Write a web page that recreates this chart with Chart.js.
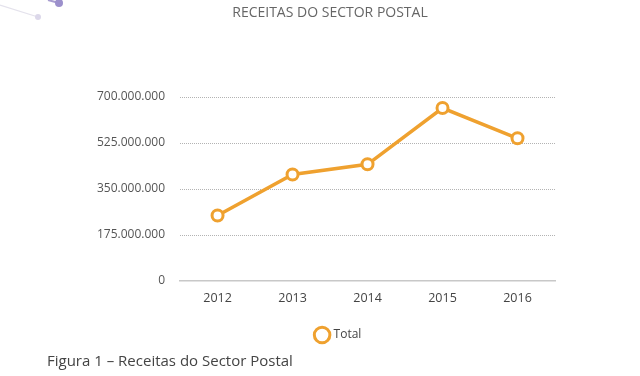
<!DOCTYPE html>
<html>
<head>
<meta charset="utf-8">
<script src="https://cdn.jsdelivr.net/npm/chart.js@4"></script>
<style>
  html, body { margin: 0; padding: 0; background: #fff; }
  #wrap { position: relative; width: 640px; height: 376px; overflow: hidden; }
  #deco { position: absolute; left: 0; top: 0; }
  #titulo {
    position: absolute; left: 0; top: 3px; width: 660px; text-align: center;
    font-family: "Open Sans", sans-serif; font-size: 14px; line-height: 18px; color: #666;
  }
  #caption {
    position: absolute; left: 47px; top: 350px;
    font-family: "Open Sans", sans-serif; font-size: 15px; color: #444;
    white-space: nowrap;
  }
</style>
</head>
<body>
<div id="wrap">
  <canvas id="chart" width="640" height="376"></canvas>
  <svg id="deco" width="80" height="30">
    <line x1="0" y1="5" x2="38" y2="17" stroke="#e4e2ec" stroke-width="1.2"/>
    <circle cx="38" cy="17" r="3" fill="#dcd8ea"/>
    <line x1="48" y1="0" x2="59" y2="3" stroke="#a89dd0" stroke-width="2"/>
    <circle cx="59" cy="3" r="4" fill="#9c90cc"/>
  </svg>
  <div id="titulo">RECEITAS DO SECTOR POSTAL</div>
  <div id="caption">Figura 1 – Receitas do Sector Postal</div>
</div>
<script>
  // dados do gráfico
  const anos = ['2012', '2013', '2014', '2015', '2016'];
  const receitas = [249000000, 405000000, 444000000, 658000000, 543000000];
  const ticksY = [0, 175000000, 350000000, 525000000, 700000000];

  const laranja = '#EFA12F';

  function formatarNumero(v) {
    return String(v).replace(/\B(?=(\d{3})+(?!\d))/g, '.');
  }

  new Chart(document.getElementById('chart'), {
    type: 'line',
    data: {
      labels: anos,
      datasets: [{
        label: 'Total',
        data: receitas,
        borderColor: laranja,
        backgroundColor: '#fff',
        borderWidth: 3.5,
        pointRadius: 5.5,
        pointBorderWidth: 3,
        pointBackgroundColor: '#fff',
        pointBorderColor: laranja,
        tension: 0,
        fill: false
      }]
    },
    options: {
      responsive: false,
      animation: false,
      layout: { padding: { left: 82, right: 44, top: 97, bottom: 25 } },
      plugins: {
        legend: {
          position: 'bottom',
          labels: {
            usePointStyle: true,
            pointStyle: 'circle',
            boxWidth: 11,
            boxHeight: 11,
            color: '#444',
            font: { family: 'Open Sans', size: 12 },
            padding: 10
          }
        },
        tooltip: { enabled: false }
      },
      scales: {
        x: {
          offset: true,
          grid: { display: false },
          border: { display: true, color: '#c8c8c8', width: 1.5 },
          ticks: { color: '#444', font: { family: 'Open Sans', size: 12.5 }, padding: 2 },
          afterFit: function(axis) { axis.height += 11; }
        },
        y: {
          min: 0,
          max: 700000000,
          afterBuildTicks: function(axis) {
            axis.ticks = ticksY.map(function(v) { return { value: v }; });
          },
          grid: {
            drawTicks: false,
            color: function(ctx) {
              return ctx.tick && ctx.tick.value === 0 ? 'rgba(0,0,0,0)' : '#a0a0a0';
            },
            lineWidth: 0.8
          },
          border: { display: false, dash: [1, 1] },
          ticks: {
            color: '#555',
            font: { family: 'Open Sans', size: 12 },
            padding: 15,
            callback: function(v) { return formatarNumero(v); }
          }
        },
        // eixo vazio só para reservar espaço à direita
        yRight: {
          position: 'right',
          min: 0,
          max: 1,
          grid: { display: false },
          border: { display: false },
          ticks: { display: false },
          afterFit: function(axis) { axis.width = 41; }
        }
      }
    }
  });
</script>
</body>
</html>
